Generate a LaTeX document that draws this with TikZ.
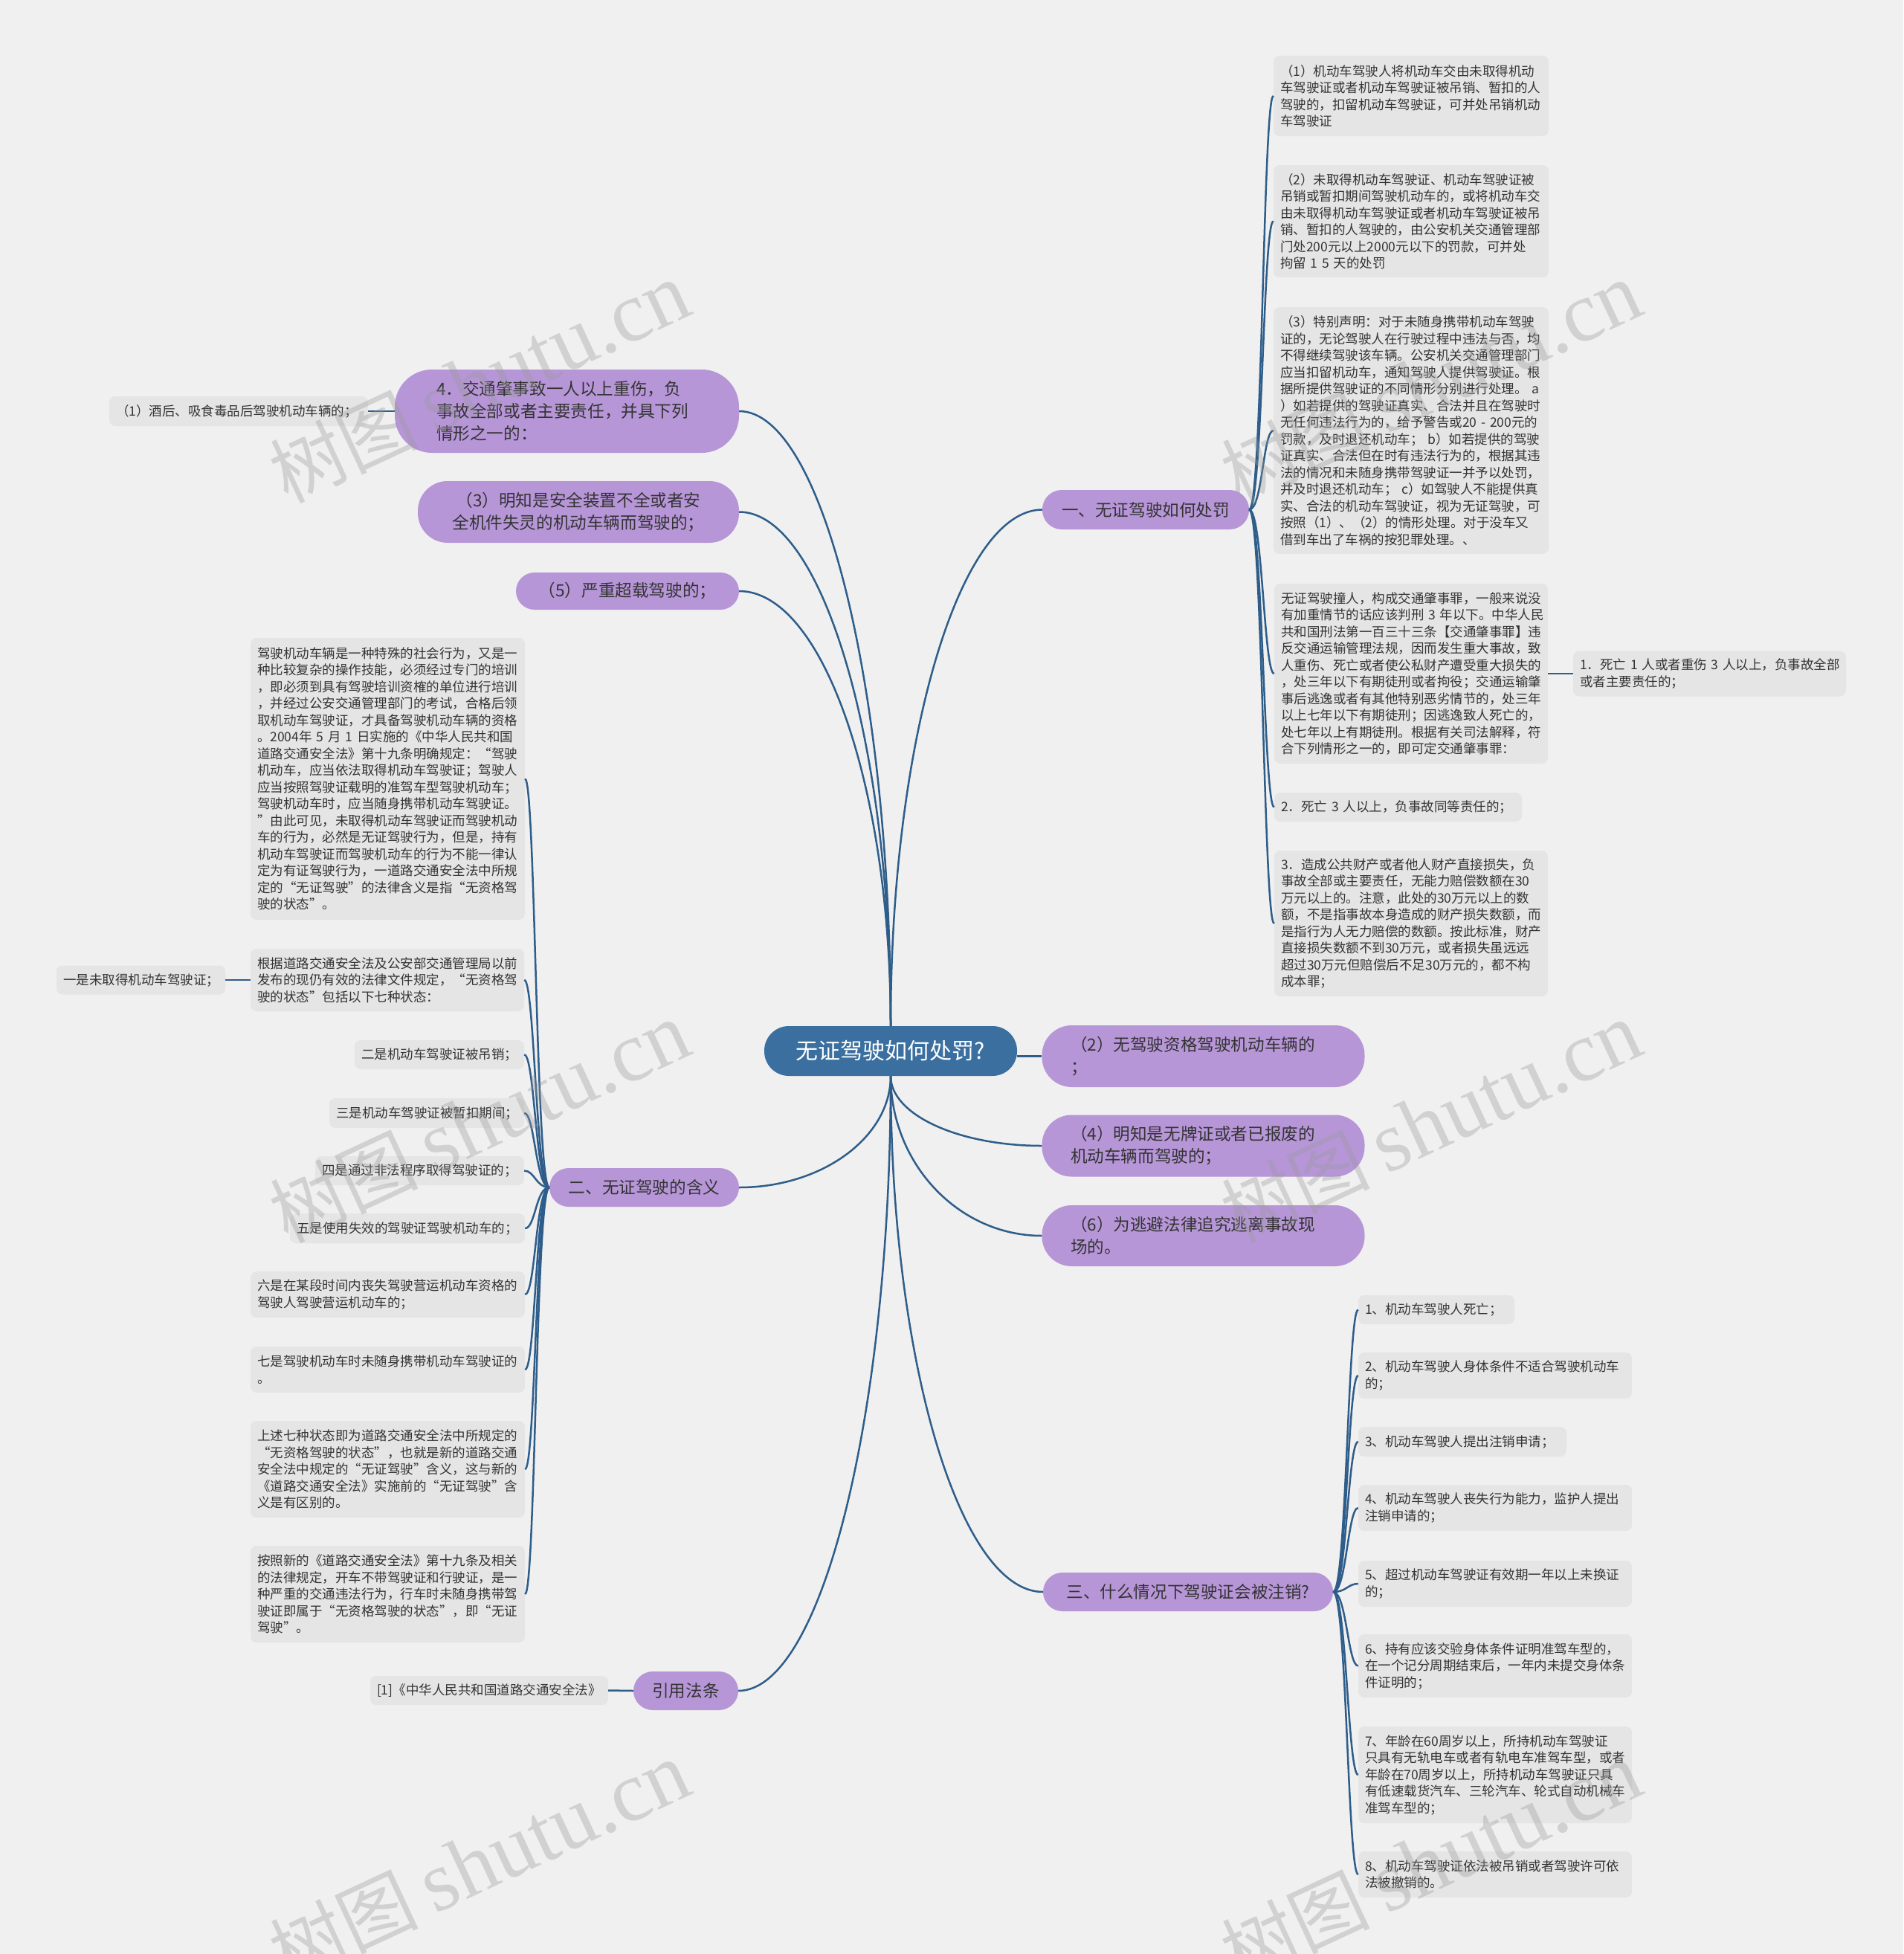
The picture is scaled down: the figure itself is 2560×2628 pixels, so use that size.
\documentclass[tikz,border=0pt]{standalone}
\usepackage{fontspec}
\newfontfamily\cjk[Kerning=Off]{Noto Sans CJK SC}
\newfontfamily\wmserif{Liberation Serif}
\definecolor{bgc}{HTML}{F0F0F0}
\definecolor{leafc}{HTML}{E5E5E5}
\definecolor{pinkc}{HTML}{B796D8}
\definecolor{rootc}{HTML}{3A6FA0}
\definecolor{linec}{HTML}{2E5D8A}
\definecolor{txt}{HTML}{333333}
\begin{document}
\begin{tikzpicture}[x=1pt,y=-1pt,
  leaf/.style={fill=leafc, rounded corners=8pt, inner sep=0pt, align=left, text=txt, font=\cjk\fontsize{17.5}{22.5}\selectfont},
  pinkn/.style={fill=pinkc, inner sep=0pt, text=txt, font=\cjk\fontsize{22.6}{30}\selectfont},
  rootn/.style={fill=rootc, inner sep=0pt, text=white, font=\cjk\fontsize{30}{36}\selectfont, rounded corners=33pt, minimum width=340pt, minimum height=67pt},
  conn/.style={draw=linec, line width=2.5pt},
  wm/.style={text=black!40, opacity=0.35, rotate=25, inner sep=0pt}
]
\fill[bgc] (0,0) rectangle (2560,2628);
\useasboundingbox (0,0) rectangle (2560,2628);

% root
\node[rootn] (root) at (1198,1413.5) {无证驾驶如何处罚?};

% main branches
\node[pinkn, minimum width=278pt, minimum height=53pt, rounded corners=26pt] (n1) at (1541,685.5) {一、无证驾驶如何处罚};
\node[pinkn, minimum width=434pt, minimum height=83pt, rounded corners=40pt, text width=357pt, align=left] (n2) at (1618.5,1420.5) {（2）无驾驶资格驾驶机动车辆的\\；};
\node[pinkn, minimum width=434pt, minimum height=83pt, rounded corners=40pt, text width=357pt, align=left] (n4r) at (1618.5,1541) {（4）明知是无牌证或者已报废的\\机动车辆而驾驶的；};
\node[pinkn, minimum width=434pt, minimum height=82pt, rounded corners=40pt, text width=357pt, align=left] (n6) at (1618.5,1662) {（6）为逃避法律追究逃离事故现\\场的。};
\node[pinkn, minimum width=390pt, minimum height=52pt, rounded corners=26pt] (nC) at (1598,2141) {三、什么情况下驾驶证会被注销?};
\node[pinkn, minimum width=463pt, minimum height=112pt, rounded corners=50pt, text width=351pt, align=left] (n4) at (762.5,553) {4．交通肇事致一人以上重伤，负\\事故全部或者主要责任，并具下列\\情形之一的：};
\node[pinkn, minimum width=432pt, minimum height=83pt, rounded corners=40pt, text width=360pt, align=center] (n3) at (778,688.5) {（3）明知是安全装置不全或者安\\全机件失灵的机动车辆而驾驶的；};
\node[pinkn, minimum width=300pt, minimum height=50pt, rounded corners=25pt] (n5) at (844,795) {（5）严重超载驾驶的；};
\node[pinkn, minimum width=255pt, minimum height=52pt, rounded corners=26pt] (nB) at (866.5,1597) {二、无证驾驶的含义};
\node[pinkn, minimum width=141pt, minimum height=52pt, rounded corners=26pt] (nR) at (922.5,2274) {引用法条};

% left leaves
\node[leaf, minimum width=348pt, text width=330pt, minimum height=40pt] (n4c) at (321,553) {（1）酒后、吸食毒品后驾驶机动车辆的；};
\node[leaf, minimum width=320pt, text width=302pt, minimum height=39pt] (nRc) at (658,2273.5) {[1]《中华人民共和国道路交通安全法》};

\node[leaf, minimum width=369pt, text width=351pt, minimum height=379pt] (la) at (521.5,1047.5) {驾驶机动车辆是一种特殊的社会行为，又是一\\种比较复杂的操作技能，必须经过专门的培训\\，即必须到具有驾驶培训资榷的单位进行培训\\，并经过公安交通管理部门的考试，合格后领\\取机动车驾驶证，才具备驾驶机动车辆的资格\\。2004年~5~月~1~日实施的《中华人民共和国\\道路交通安全法》第十九条明确规定：“驾驶\\机动车，应当依法取得机动车驾驶证；驾驶人\\应当按照驾驶证载明的准驾车型驾驶机动车；\\驾驶机动车时，应当随身携带机动车驾驶证。\\”由此可见，未取得机动车驾驶证而驾驶机动\\车的行为，必然是无证驾驶行为，但是，持有\\机动车驾驶证而驾驶机动车的行为不能一律认\\定为有证驾驶行为，一道路交通安全法中所规\\定的“无证驾驶”的法律含义是指“无资格驾\\驶的状态”。};
\node[leaf, minimum width=368pt, text width=350pt, minimum height=84pt] (lb) at (521,1318) {根据道路交通安全法及公安部交通管理局以前\\发布的现仍有效的法律文件规定，“无资格驾\\驶的状态”包括以下七种状态：};
\node[leaf, minimum width=227pt, text width=209pt, minimum height=39pt] (lb1) at (189.5,1318) {一是未取得机动车驾驶证；};
\node[leaf, minimum width=228pt, text width=210pt, minimum height=39pt] (lc) at (591,1418.5) {二是机动车驾驶证被吊销；};
\node[leaf, minimum width=262pt, text width=244pt, minimum height=40pt] (ld) at (574,1497) {三是机动车驾驶证被暂扣期间；};
\node[leaf, minimum width=281pt, text width=263pt, minimum height=39pt] (le) at (564.5,1574.5) {四是通过非法程序取得驾驶证的；};
\node[leaf, minimum width=316pt, text width=298pt, minimum height=40pt] (lf) at (548,1652) {五是使用失效的驾驶证驾驶机动车的；};
\node[leaf, minimum width=369pt, text width=351pt, minimum height=62pt] (lg) at (521.5,1741) {六是在某段时间内丧失驾驶营运机动车资格的\\驾驶人驾驶营运机动车的；};
\node[leaf, minimum width=369pt, text width=351pt, minimum height=62pt] (lh) at (521.5,1842) {七是驾驶机动车时未随身携带机动车驾驶证的\\。};
\node[leaf, minimum width=369pt, text width=351pt, minimum height=130pt] (li) at (521.5,1976) {上述七种状态即为道路交通安全法中所规定的\\“无资格驾驶的状态”，也就是新的道路交通\\安全法中规定的“无证驾驶”含义，这与新的\\《道路交通安全法》实施前的“无证驾驶”含\\义是有区别的。};
\node[leaf, minimum width=369pt, text width=351pt, minimum height=130pt] (lj) at (521.5,2144) {按照新的《道路交通安全法》第十九条及相关\\的法律规定，开车不带驾驶证和行驶证，是一\\种严重的交通违法行为，行车时未随身携带驾\\驶证即属于“无资格驾驶的状态”，即“无证\\驾驶”。};

% right leaves (group 1)
\node[leaf, minimum width=370pt, text width=352pt, minimum height=108pt] (r1) at (1898,129) {（1）机动车驾驶人将机动车交由未取得机动\\车驾驶证或者机动车驾驶证被吊销、暂扣的人\\驾驶的，扣留机动车驾驶证，可并处吊销机动\\车驾驶证};
\node[leaf, minimum width=370pt, text width=352pt, minimum height=151pt] (r2) at (1898,297.5) {（2）未取得机动车驾驶证、机动车驾驶证被\\吊销或暂扣期间驾驶机动车的，或将机动车交\\由未取得机动车驾驶证或者机动车驾驶证被吊\\销、暂扣的人驾驶的，由公安机关交通管理部\\门处200元以上2000元以下的罚款，可并处\\拘留~1~5~天的处罚};
\node[leaf, minimum width=370pt, text width=352pt, minimum height=332pt] (r3) at (1898,579) {（3）特别声明：对于未随身携带机动车驾驶\\证的，无论驾驶人在行驶过程中违法与否，均\\不得继续驾驶该车辆。公安机关交通管理部门\\应当扣留机动车，通知驾驶人提供驾驶证。根\\据所提供驾驶证的不同情形分别进行处理。~a\\）如若提供的驾驶证真实、合法并且在驾驶时\\无任何违法行为的，给予警告或20~-~200元的\\罚款，及时退还机动车；~b）如若提供的驾驶\\证真实、合法但在时有违法行为的，根据其违\\法的情况和未随身携带驾驶证一并予以处罚，\\并及时退还机动车；~c）如驾驶人不能提供真\\实、合法的机动车驾驶证，视为无证驾驶，可\\按照（1）、（2）的情形处理。对于没车又\\借到车出了车祸的按犯罪处理。、};
\node[leaf, minimum width=368pt, text width=350pt, minimum height=242pt] (r4) at (1898,906) {无证驾驶撞人，构成交通肇事罪，一般来说没\\有加重情节的话应该判刑~3~年以下。中华人民\\共和国刑法第一百三十三条【交通肇事罪】违\\反交通运输管理法规，因而发生重大事故，致\\人重伤、死亡或者使公私财产遭受重大损失的\\，处三年以下有期徒刑或者拘役；交通运输肇\\事后逃逸或者有其他特别恶劣情节的，处三年\\以上七年以下有期徒刑；因逃逸致人死亡的，\\处七年以上有期徒刑。根据有关司法解释，符\\合下列情形之一的，即可定交通肇事罪：};
\node[leaf, minimum width=367pt, text width=349pt, minimum height=61pt] (r4c) at (2299.5,906) {1．死亡~1~人或者重伤~3~人以上，负事故全部\\或者主要责任的；};
\node[leaf, minimum width=333pt, text width=315pt, minimum height=39pt] (r5) at (1880.5,1085.5) {2．死亡~3~人以上，负事故同等责任的；};
\node[leaf, minimum width=368pt, text width=350pt, minimum height=196pt] (r6) at (1898,1242) {3．造成公共财产或者他人财产直接损失，负\\事故全部或主要责任，无能力赔偿数额在30\\万元以上的。注意，此处的30万元以上的数\\额，不是指事故本身造成的财产损失数额，而\\是指行为人无力赔偿的数额。按此标准，财产\\直接损失数额不到30万元，或者损失虽远远\\超过30万元但赔偿后不足30万元的，都不构\\成本罪；};

% right leaves (group 3)
\node[leaf, minimum width=210pt, text width=192pt, minimum height=39pt] (c1) at (1932,1761.5) {1、机动车驾驶人死亡；};
\node[leaf, minimum width=368pt, text width=350pt, minimum height=62pt] (c2) at (2011,1850) {2、机动车驾驶人身体条件不适合驾驶机动车\\的；};
\node[leaf, minimum width=280pt, text width=262pt, minimum height=40pt] (c3) at (1967,1939) {3、机动车驾驶人提出注销申请；};
\node[leaf, minimum width=368pt, text width=350pt, minimum height=62pt] (c4) at (2011,2028) {4、机动车驾驶人丧失行为能力，监护人提出\\注销申请的；};
\node[leaf, minimum width=368pt, text width=350pt, minimum height=62pt] (c5) at (2011,2130) {5、超过机动车驾驶证有效期一年以上未换证\\的；};
\node[leaf, minimum width=368pt, text width=350pt, minimum height=85pt] (c6) at (2011,2240.5) {6、持有应该交验身体条件证明准驾车型的，\\在一个记分周期结束后，一年内未提交身体条\\件证明的；};
\node[leaf, minimum width=368pt, text width=350pt, minimum height=130pt] (c7) at (2011,2387) {7、年龄在60周岁以上，所持机动车驾驶证\\只具有无轨电车或者有轨电车准驾车型，或者\\年龄在70周岁以上，所持机动车驾驶证只具\\有低速载货汽车、三轮汽车、轮式自动机械车\\准驾车型的；};
\node[leaf, minimum width=368pt, text width=350pt, minimum height=62pt] (c8) at (2011,2521) {8、机动车驾驶证依法被吊销或者驾驶许可依\\法被撤销的。};

% connectors from root
\draw[conn] (root.north) .. controls +(0,-455) and +(112,0) .. (n4.east);
\draw[conn] (root.north) .. controls +(0,-381) and +(112,0) .. (n3.east);
\draw[conn] (root.north) .. controls +(0,-322) and +(112,0) .. (n5.east);
\draw[conn] (root.north) .. controls +(0,-382) and +(-112,0) .. (n1.west);
\draw[conn] (root.east |- n2.west) -- (n2.west);
\draw[conn] (root.south) .. controls +(0,52) and +(-112,0) .. (n4r.west);
\draw[conn] (root.south) .. controls +(0,118) and +(-112,0) .. (n6.west);
\draw[conn] (root.south) .. controls +(0,82) and +(112,0) .. (nB.east);
\draw[conn] (root.south) .. controls +(0,455) and +(112,0) .. (nR.east);
\draw[conn] (root.south) .. controls +(0,382) and +(-112,0) .. (nC.west);

% group connectors
\foreach \c in {r1,r2,r3,r4,r5,r6}
  \draw[conn] (n1.east) .. controls +(18,0) and +(-14,0) .. (\c.west);
\foreach \c in {la,lb,lc,ld,le,lf,lg,lh,li,lj}
  \draw[conn] (nB.west) .. controls +(-18,0) and +(14,0) .. (\c.east);
\foreach \c in {c1,c2,c3,c4,c5,c6,c7,c8}
  \draw[conn] (nC.east) .. controls +(18,0) and +(-14,0) .. (\c.west);
\draw[conn] (n4.west) -- (n4c.east);
\draw[conn] (lb.west) -- (lb1.east);
\draw[conn] (r4.east) -- (r4c.west);
\draw[conn] (nR.west) -- (nRc.east);

% watermarks
\foreach \p/\q in {645/515, 645/1510, 645/2505, 1925/515, 1925/1510, 1925/2505}
  \node[wm] at (\p,\q) {{\cjk\fontsize{100}{110}\selectfont 树图}\hspace{20pt}{\wmserif\fontsize{115}{120}\selectfont shutu.cn}};
\end{tikzpicture}
\end{document}
